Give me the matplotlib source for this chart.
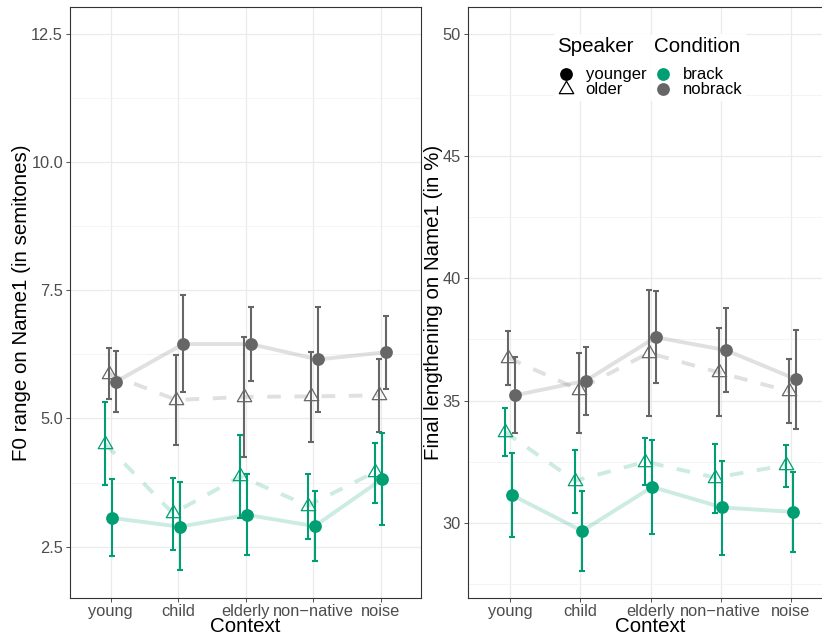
import matplotlib.pyplot as plt
from matplotlib.lines import Line2D
from matplotlib.path import Path
import numpy as np

plt.rcParams['font.family'] = ['Liberation Sans', 'DejaVu Sans']

# data
contexts = ["young", "child", "elderly", "non\u2212native", "noise"]

# F0 range (semitones): mean, lower, upper
f0_brack_younger = [3.06, 2.89, 3.12, 2.90, 3.82]
f0_brack_younger_lo = [2.31, 2.04, 2.33, 2.22, 2.92]
f0_brack_younger_hi = [3.82, 3.76, 3.91, 3.58, 4.71]
f0_brack_older = [4.50, 3.15, 3.87, 3.30, 3.96]
f0_brack_older_lo = [3.71, 2.43, 3.06, 2.65, 3.36]
f0_brack_older_hi = [5.32, 3.84, 4.68, 3.91, 4.52]
f0_nobrack_younger = [5.71, 6.45, 6.45, 6.15, 6.29]
f0_nobrack_younger_lo = [5.12, 5.52, 5.73, 5.13, 5.58]
f0_nobrack_younger_hi = [6.31, 7.40, 7.17, 7.17, 7.00]
f0_nobrack_older = [5.87, 5.36, 5.42, 5.43, 5.45]
f0_nobrack_older_lo = [5.37, 4.48, 4.25, 4.55, 4.73]
f0_nobrack_older_hi = [6.37, 6.23, 6.59, 6.30, 6.16]

# final lengthening (%): mean, lower, upper
fl_brack_younger = [31.14, 29.67, 31.47, 30.63, 30.45]
fl_brack_younger_lo = [29.44, 28.03, 29.55, 28.70, 28.81]
fl_brack_younger_hi = [32.85, 31.32, 33.39, 32.55, 32.07]
fl_brack_older = [33.72, 31.72, 32.50, 31.85, 32.36]
fl_brack_older_lo = [32.75, 30.42, 31.53, 30.42, 31.47]
fl_brack_older_hi = [34.70, 32.96, 33.47, 33.23, 33.19]
fl_nobrack_younger = [35.22, 35.81, 37.59, 37.06, 35.87]
fl_nobrack_younger_lo = [33.67, 34.40, 35.71, 35.36, 33.84]
fl_nobrack_younger_hi = [36.77, 37.18, 39.48, 38.79, 37.89]
fl_nobrack_older = [36.75, 35.45, 36.95, 36.15, 35.38]
fl_nobrack_older_lo = [35.63, 33.68, 34.36, 34.37, 34.09]
fl_nobrack_older_hi = [37.84, 36.94, 39.53, 37.95, 36.68]

GREEN = "#009E73"
GRAY = "#666666"

# open triangle like R pch 2 (centred on centroid)
tri = Path([(0, 1.555), (1.347, -0.778), (-1.347, -0.778), (0, 1.555)],
           [Path.MOVETO, Path.LINETO, Path.LINETO, Path.CLOSEPOLY])


def panel(ax, groups, ylim, yticks, ylabels, ylab):
    x = np.arange(1, 6)
    for mean, lo, hi, col, spk, off in groups:
        xs = x + off
        ls = "-" if spk == "younger" else (0, (3.5, 3.5))
        ax.plot(xs, mean, color=col, alpha=0.2, lw=2.8, linestyle=ls, zorder=2,
                solid_capstyle="butt")
    for mean, lo, hi, col, spk, off in groups:
        xs = x + off
        m = np.array(mean)
        err = [m - np.array(lo), np.array(hi) - m]
        ax.errorbar(xs, m, yerr=err, fmt="none", ecolor=col, elinewidth=1.5,
                    capsize=2.0, capthick=1.5, zorder=3)
        if spk == "younger":
            ax.plot(xs, m, "o", color=col, ms=9.2, zorder=4, mew=0)
        else:
            ax.plot(xs, m, linestyle="none", marker=tri, ms=12, mfc="none",
                    mec=col, mew=0.9, zorder=4)
    ax.set_xticks(x)
    ax.set_xticklabels(contexts)
    ax.set_yticks(yticks)
    ax.set_yticklabels(ylabels)
    step = yticks[1] - yticks[0]
    mids = [t - step / 2 for t in yticks] + [yticks[-1] + step / 2]
    ax.set_yticks(mids, minor=True)
    ax.set_xlim(0.4, 5.6)
    ax.set_ylim(*ylim)
    ax.grid(True, which="major", color="#EBEBEB", lw=0.9, zorder=0)
    ax.grid(True, which="minor", axis="y", color="#F2F2F2", lw=0.6, zorder=0)
    ax.set_axisbelow(True)
    ax.tick_params(which="minor", length=0)
    ax.tick_params(which="major", length=3, width=0.6, color="#333333",
                   labelcolor="#4D4D4D", labelsize=11.8, pad=2)
    ax.tick_params(axis="x", pad=1)
    for s in ax.spines.values():
        s.set_color("#333333")
        s.set_linewidth(0.8)
    ax.set_xlabel("Context", fontsize=14.8, labelpad=-1)
    ax.set_ylabel(ylab, fontsize=14.8, labelpad=0)


fig = plt.figure(figsize=(8.22, 6.36), dpi=100)
W, H = 822, 636
ax1 = fig.add_axes([70 / W, (H - 598) / H, 351 / W, 591 / H])
ax2 = fig.add_axes([468 / W, (H - 598) / H, 365 / W, 591 / H])

d = [-0.075, -0.025, 0.025, 0.075]
panel(ax1, [
    (f0_brack_older, f0_brack_older_lo, f0_brack_older_hi, GREEN, "older", d[0]),
    (f0_nobrack_older, f0_nobrack_older_lo, f0_nobrack_older_hi, GRAY, "older", d[1]),
    (f0_brack_younger, f0_brack_younger_lo, f0_brack_younger_hi, GREEN, "younger", d[2]),
    (f0_nobrack_younger, f0_nobrack_younger_lo, f0_nobrack_younger_hi, GRAY, "younger", d[3]),
], (1.5, 13.02), [2.5, 5.0, 7.5, 10.0, 12.5], ["2.5", "5.0", "7.5", "10.0", "12.5"],
    "F0 range on Name1 (in semitones)")

panel(ax2, [
    (fl_brack_older, fl_brack_older_lo, fl_brack_older_hi, GREEN, "older", d[0]),
    (fl_nobrack_older, fl_nobrack_older_lo, fl_nobrack_older_hi, GRAY, "older", d[1]),
    (fl_brack_younger, fl_brack_younger_lo, fl_brack_younger_hi, GREEN, "younger", d[2]),
    (fl_nobrack_younger, fl_nobrack_younger_lo, fl_nobrack_younger_hi, GRAY, "younger", d[3]),
], (26.93, 51.09), [30, 35, 40, 45, 50], ["30", "35", "40", "45", "50"],
    "Final lengthening on Name1 (in %)")

# legends
spk_h = [Line2D([], [], marker="o", color="black", ls="none", ms=9.2, mew=0),
         Line2D([], [], marker=tri, mfc="white", mec="black", ls="none", ms=12, mew=0.9)]
cond_h = [Line2D([], [], marker="o", color=GREEN, ls="none", ms=9.2, mew=0),
          Line2D([], [], marker="o", color=GRAY, ls="none", ms=9.2, mew=0)]
kw = dict(loc="upper left", bbox_transform=fig.transFigure, frameon=True,
          fancybox=False, edgecolor="none", facecolor="white", framealpha=1,
          fontsize=12, title_fontsize=14.8, labelspacing=0.0, handlelength=1.0,
          handletextpad=0.7, borderpad=0.2, borderaxespad=0, alignment="left")
leg1 = ax2.legend(spk_h, ["younger", "older"], title="Speaker",
                  bbox_to_anchor=(554 / W, 1 - 34 / H), **kw)
leg1._legend_box.sep = 8
ax2.add_artist(leg1)
leg2 = ax2.legend(cond_h, ["brack", "nobrack"], title="Condition",
                  bbox_to_anchor=(651 / W, 1 - 34 / H), **kw)
leg2._legend_box.sep = 8

fig.savefig("out.png", dpi=100)
